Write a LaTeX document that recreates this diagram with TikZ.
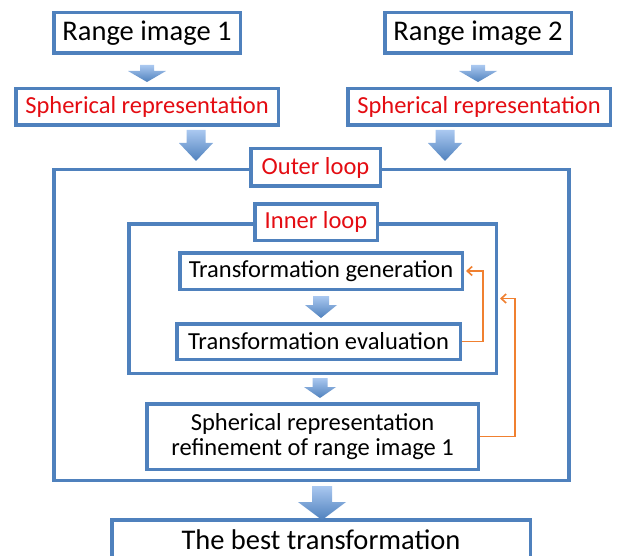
\documentclass[tikz,border=0pt]{standalone}
\usepackage{fontspec}
\setmainfont{Carlito}
\usetikzlibrary{calc,arrows.meta}
\definecolor{boxblue}{RGB}{79,129,189}
\definecolor{arrowtop}{RGB}{170,200,240}
\definecolor{loopred}{RGB}{228,12,18}
\definecolor{fborange}{RGB}{240,128,48}
\tikzset{
  box/.style={draw=boxblue, line width=3.5pt, fill=white, inner sep=0pt, align=center},
  redtext/.style={text=loopred},
  blkfill/.style={shading=axis, top color=arrowtop, bottom color=boxblue},
  feedback/.style={draw=fborange, line width=1.6pt, -{Straight Barb[length=5pt,width=9pt]}, shorten >=2pt},
  blk/.cd, shaft/.store in=\blkshaft, head/.store in=\blkhead, len/.store in=\blklen
}
% block arrow from top point to tip
\newcommand{\blkarrow}[3][]{%
  \tikzset{blk/.cd, shaft=9, head=19, len=17, #1}%
  \path[blkfill] let \p1=#2, \p2=#3 in
    (\x1-\blkshaft pt,\y1) -- (\x1+\blkshaft pt,\y1) -- (\x1+\blkshaft pt,\y2+\blklen pt)
    -- (\x1+\blkhead pt,\y2+\blklen pt) -- (\x2,\y2) -- (\x1-\blkhead pt,\y2+\blklen pt)
    -- (\x1-\blkshaft pt,\y2+\blklen pt) -- cycle;}

\begin{document}
\begin{tikzpicture}[x=1pt, y=-1pt]
    \useasboundingbox (0,0) rectangle (626,556);

    % Inputs
    \node[box, minimum width=186.5pt, minimum height=40.5pt, font=\fontsize{28.5}{30}\selectfont] (r1) at (147,33) {Range image 1};
    \node[box, minimum width=186.5pt, minimum height=40.5pt, font=\fontsize{28.5}{30}\selectfont] (r2) at (478,33) {Range image 2};
    \node[box, redtext, minimum width=262.5pt, minimum height=36.5pt, font=\fontsize{24.5}{26}\selectfont] (s1) at (147,107) {Spherical representation};
    \node[box, redtext, minimum width=262.5pt, minimum height=36.5pt, font=\fontsize{24.5}{26}\selectfont] (s2) at (479,107) {Spherical representation};

    % Loops
    \node[box, minimum width=515pt, minimum height=310.5pt] (outer) at (311.5,325) {};
    \node[box, redtext, minimum width=129.5pt, minimum height=37.5pt, font=\fontsize{24.5}{26}\selectfont] (outerlbl) at (315.5,167.5) {Outer loop};
    \node[box, minimum width=367.5pt, minimum height=149.5pt] (inner) at (312.5,298.5) {};
    \node[box, redtext, minimum width=122.5pt, minimum height=36.5pt, font=\fontsize{24.5}{26}\selectfont] (innerlbl) at (316,222) {Inner loop};

    % Steps
    \node[box, minimum width=282.5pt, minimum height=36.5pt, font=\fontsize{24.5}{26}\selectfont] (tgen) at (321,271) {Transformation generation};
    \node[box, minimum width=283.5pt, minimum height=35.5pt, font=\fontsize{24.5}{26}\selectfont] (teval) at (318.5,341.5) {Transformation evaluation};
    \node[box, minimum width=331.5pt, minimum height=65.5pt, font=\fontsize{24.5}{25}\selectfont] (refine) at (312.5,436.5) {Spherical representation\\refinement of range image 1};
    \node[box, minimum width=418.5pt, minimum height=40.5pt, font=\fontsize{28.5}{30}\selectfont] (best) at (321,540) {The best transformation};

    % Block arrows
    \coordinate (a1) at (147,65);  \coordinate (a1e) at (147,82);
    \coordinate (a2) at (478,65);  \coordinate (a2e) at (478,82);
    \coordinate (a3) at (196,130); \coordinate (a3e) at (196,161);
    \coordinate (a4) at (445,130); \coordinate (a4e) at (445,161);
    \coordinate (a5) at (321,296); \coordinate (a5e) at (321,318);
    \coordinate (a6) at (320,378); \coordinate (a6e) at (320,398);
    \coordinate (a7) at (322,486); \coordinate (a7e) at (322,520);
    \blkarrow[shaft=7, head=19, len=11]{(a1)}{(a1e)}
    \blkarrow[shaft=7, head=19, len=11]{(a2)}{(a2e)}
    \blkarrow[shaft=9.5, head=17, len=18]{(a3)}{(a3e)}
    \blkarrow[shaft=9.5, head=17, len=18]{(a4)}{(a4e)}
    \blkarrow[shaft=8, head=16, len=13]{(a5)}{(a5e)}
    \blkarrow[shaft=7.5, head=16, len=11]{(a6)}{(a6e)}
    \blkarrow[shaft=10, head=24, len=18]{(a7)}{(a7e)}

    % Feedback
    \draw[feedback] (teval.east) -- ++(21,0) |- (tgen.east);
    \draw[feedback] (refine.east) -- ++(35,0) |- (inner.east);

\end{tikzpicture}
\end{document}
